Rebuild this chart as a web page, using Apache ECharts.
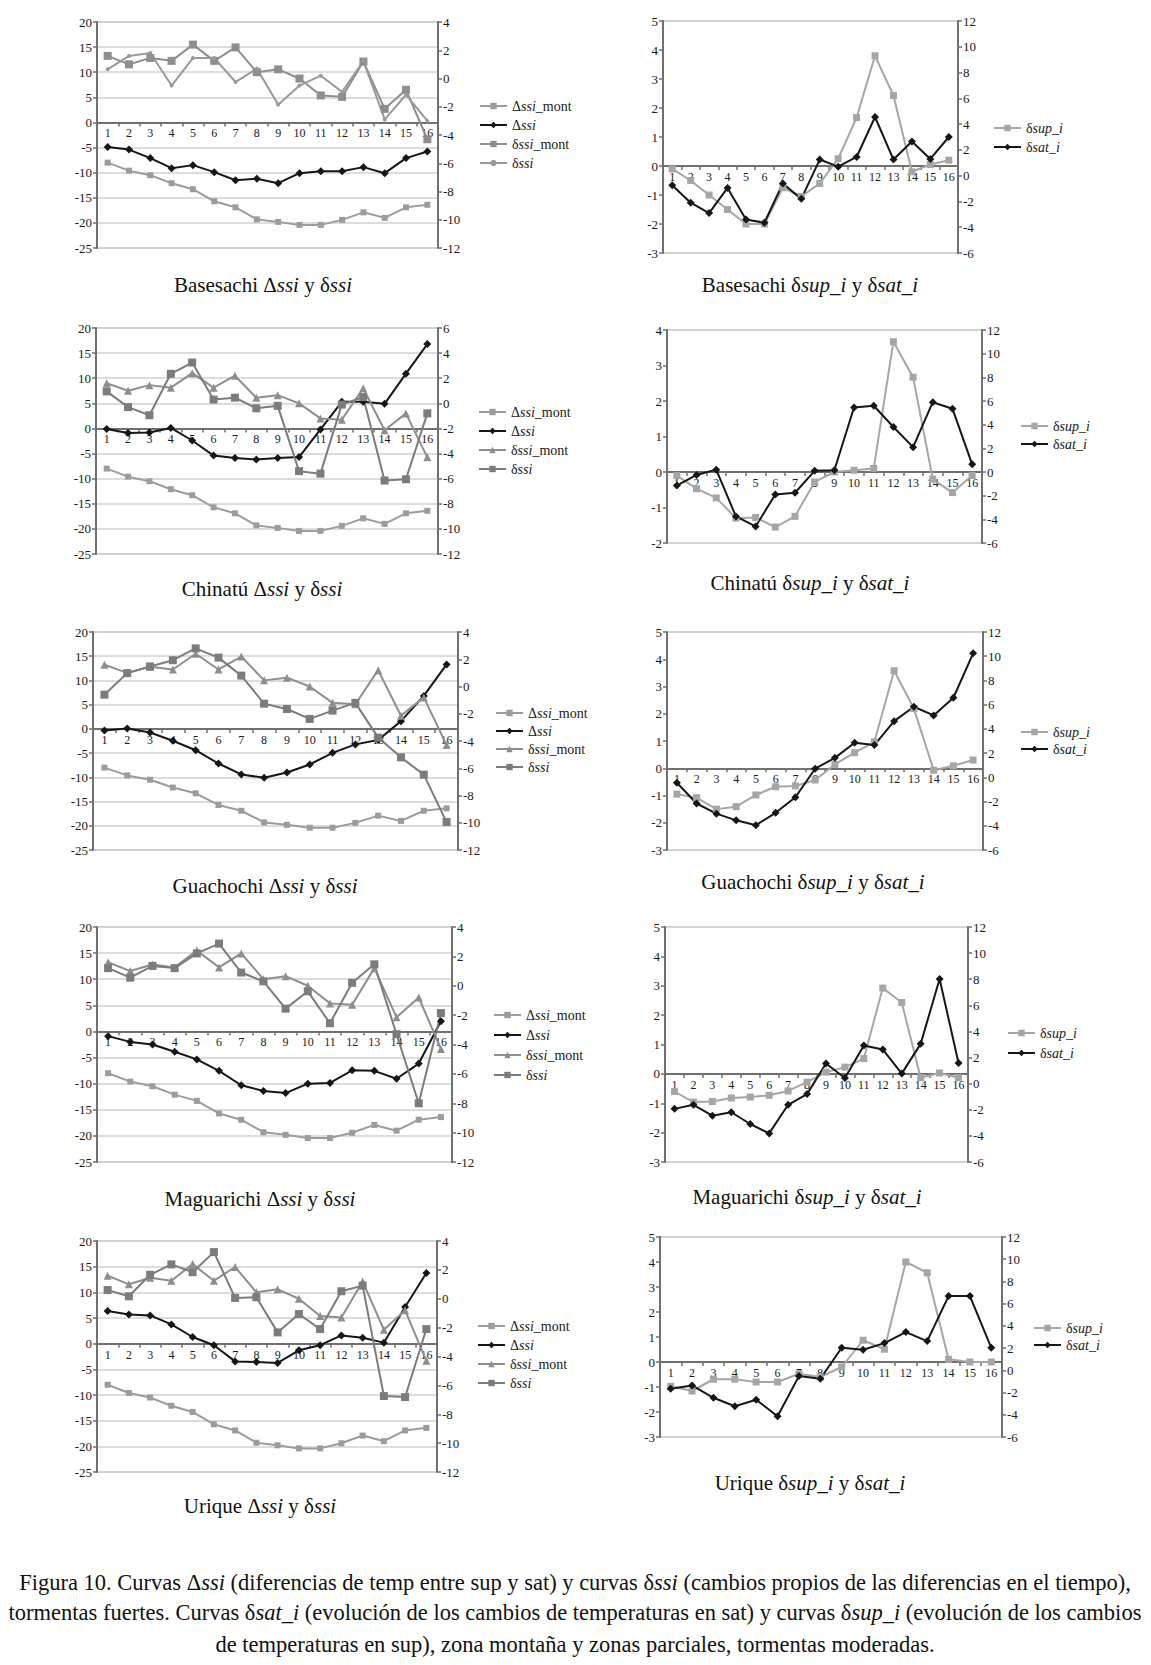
<!DOCTYPE html>
<html><head><meta charset="utf-8">
<script src="https://cdn.jsdelivr.net/npm/echarts@6/dist/echarts.min.js"></script>
<style>html,body{margin:0;padding:0;background:#fff}#c{width:1151px;height:1665px}</style>
</head><body><div id="c"></div>
<script>
// ---------- data ----------
const categories = ['1','2','3','4','5','6','7','8','9','10','11','12','13','14','15','16'];
const leftNames = ['Δssi_mont','Δssi','δssi_mont','δssi'];
const rightNames = ['δsup_i','δsat_i'];
const stations = ['Basesachi','Chinatú','Guachochi','Maguarichi','Urique'];

// shared mountain-zone curves
const deltaSsiMont = [-8.0,-9.6,-10.5,-12.1,-13.3,-15.7,-16.9,-19.3,-19.8,-20.4,-20.4,-19.4,-17.9,-19.0,-16.9,-16.4];
const dssiMont = [1.6,1.0,1.45,1.25,2.4,1.25,2.2,0.45,0.65,0.0,-1.2,-1.3,1.2,-2.15,-0.8,-4.3];

// Basesachi
const basesachiDeltaSsi = [-4.9,-5.4,-7.1,-9.1,-8.5,-9.9,-11.5,-11.2,-12.1,-10.1,-9.7,-9.7,-8.9,-10.1,-7.1,-5.8];
const basesachiDssi = [0.65,1.6,1.8,-0.5,1.45,1.45,-0.25,0.7,-1.85,-0.5,0.2,-0.95,1.25,-2.9,-1.15,-3.0];
const basesachiSup = [-0.1,-0.5,-1.0,-1.5,-2.0,-2.0,-0.75,-1.05,-0.6,0.25,1.67,3.8,2.43,-0.2,0.05,0.2];
const basesachiSat = [-0.75,-2.1,-2.9,-0.95,-3.4,-3.65,-0.6,-1.8,1.25,0.7,1.45,4.55,1.25,2.65,1.3,3.0];
// Chinatú
const chinatuDeltaSsi = [-0.1,-0.9,-0.8,0.1,-2.4,-5.4,-5.9,-6.2,-5.9,-5.7,-0.2,5.3,5.3,4.9,10.9,16.8];
const chinatuDssi = [0.95,-0.3,-0.95,2.35,3.25,0.3,0.45,-0.4,-0.2,-5.4,-5.6,-0.1,0.5,-6.15,-6.05,-0.8];
const chinatuSup = [-0.1,-0.47,-0.73,-1.3,-1.28,-1.55,-1.25,-0.28,0.0,0.05,0.1,3.67,2.67,-0.2,-0.58,-0.1];
const chinatuSat = [-1.15,-0.25,0.2,-3.75,-4.6,-1.9,-1.75,0.1,0.15,5.45,5.6,3.8,2.1,5.9,5.35,0.65];
// Guachochi
const guachochiDeltaSsi = [-0.35,0.1,-0.75,-2.45,-4.4,-7.15,-9.4,-10.1,-9.0,-7.35,-4.95,-3.2,-2.3,1.6,6.8,13.3];
const guachochiDssi = [-0.6,0.98,1.47,1.93,2.8,2.12,0.8,-1.26,-1.65,-2.38,-1.77,-1.2,-3.75,-5.2,-6.47,-9.95];
const guachochiSup = [-0.95,-1.08,-1.5,-1.41,-0.98,-0.68,-0.65,-0.43,0.14,0.57,0.97,3.58,2.19,-0.07,0.09,0.3];
const guachochiSat = [-0.45,-2.16,-3.0,-3.55,-3.95,-2.93,-1.64,0.71,1.61,2.85,2.66,4.64,5.83,5.11,6.57,10.24];
// Maguarichi
const maguarichiDeltaSsi = [-0.9,-2.0,-2.5,-3.9,-5.35,-7.55,-10.3,-11.4,-11.8,-10.0,-9.85,-7.45,-7.55,-9.05,-6.15,1.95];
const maguarichiDssi = [1.2,0.55,1.35,1.2,2.2,2.87,0.9,0.3,-1.56,-0.38,-2.55,0.2,1.46,-3.3,-8.0,-1.86];
const maguarichiSup = [-0.6,-0.96,-0.94,-0.82,-0.79,-0.73,-0.58,-0.28,0.06,0.23,0.52,2.92,2.43,-0.13,0.03,-0.13];
const maguarichiSat = [-1.93,-1.62,-2.45,-2.19,-3.09,-3.81,-1.62,-0.8,1.54,0.43,2.93,2.62,0.77,3.05,8.02,1.59];
// Urique
const uriqueDeltaSsi = [6.35,5.7,5.5,3.75,1.3,-0.3,-3.45,-3.55,-3.75,-1.3,-0.3,1.6,1.15,0.2,7.15,13.75];
const uriqueDssi = [0.6,0.17,1.66,2.38,1.84,3.23,0.06,0.1,-2.33,-1.06,-2.1,0.52,0.91,-6.74,-6.81,-2.1];
const uriqueSup = [-0.97,-1.16,-0.69,-0.69,-0.8,-0.8,-0.47,-0.6,-0.2,0.87,0.51,4.0,3.57,0.11,0.0,0.0];
const uriqueSat = [-1.66,-1.36,-2.47,-3.23,-2.65,-4.13,-0.52,-0.76,2.03,1.85,2.45,3.44,2.63,6.68,6.68,2.03];

// axis ranges (tick labels)
const leftPanelLeftAxis = [-25, 20, 5];
const leftPanelRightMax = [4, 6, 4, 4, 4];
const rightPanelLeftAxis = [[-3,5],[-2,4],[-3,5],[-3,5],[-3,5]];
const rightPanelRightAxis = [-6, 12, 2];

// ---------- layout ----------
const SERIF = '"Liberation Serif", "Times New Roman", serif';
const ZW = '\u200b'; // keeps the Basesachi legend tied to its own series styles
const leftSeriesData = [
  [basesachiDeltaSsi, basesachiDssi],[chinatuDeltaSsi, chinatuDssi],[guachochiDeltaSsi, guachochiDssi],
  [maguarichiDeltaSsi, maguarichiDssi],[uriqueDeltaSsi, uriqueDssi]];
const rightSeriesData = [
  [basesachiSup, basesachiSat],[chinatuSup, chinatuSat],[guachochiSup, guachochiSat],
  [maguarichiSup, maguarichiSat],[uriqueSup, uriqueSat]];

const leftLayout = [
  {grid:{left:97,top:22,width:341,height:226}, legend:{left:479,top:99,gap:5}, title:[263,285]},
  {grid:{left:96,top:328,width:342,height:226}, legend:{left:478,top:405,gap:5}, title:[262,589]},
  {grid:{left:93,top:632,width:365,height:218}, legend:{left:495,top:706,gap:4}, title:[265,886]},
  {grid:{left:97,top:927,width:355,height:235}, legend:{left:493,top:1008,gap:6}, title:[260,1199]},
  {grid:{left:97,top:1241,width:340,height:231}, legend:{left:477,top:1319,gap:5}, title:[260,1506]}
];
const rightLayout = [
  {grid:{left:663,top:21,width:295,height:232}, legend:{left:993,top:121,gap:5}, title:[810,285]},
  {grid:{left:667,top:330,width:315,height:213}, legend:{left:1020,top:419,gap:4}, title:[810,583]},
  {grid:{left:667,top:632,width:316,height:218}, legend:{left:1020,top:725,gap:3}, title:[813,882]},
  {grid:{left:665,top:927,width:303,height:235}, legend:{left:1007,top:1026,gap:6}, title:[807,1197]},
  {grid:{left:660,top:1237,width:342,height:200}, legend:{left:1033,top:1321,gap:3}, title:[810,1483]}
];

const AXIS_COLOR = '#707070';
const LABEL = {fontFamily: SERIF, fontSize: 13, color: '#1a1a1a'};
const richBase = {
  n: {fontFamily: SERIF, fontSize: 14, color: '#1a1a1a', lineHeight: 15},
  i: {fontFamily: SERIF, fontSize: 14, color: '#1a1a1a', fontStyle: 'italic', lineHeight: 15}
};
function richName(name) {
  const m = name.replace(/\u200b/g, '').match(/^([Δδ])(ssi|sup_i|sat_i)(.*)$/);
  if (!m) return '{n|' + name + '}';
  return '{n|' + m[1] + '}{i|' + m[2] + '}' + (m[3] ? '{n|' + m[3] + '}' : '');
}

const grids = [], xAxes = [], yAxes = [], series = [], legends = [], graphics = [];

function addPanel(layout, leftRange, leftInt, rightRange, rightInt, gridLines) {
  const gi = grids.length;
  grids.push(Object.assign({show: true, borderColor: '#a8a8a8', borderWidth: 1, containLabel: false, outerBoundsMode: 'none'}, layout.grid));
  // place the category axis on the zero of the left value axis
  const zeroFrac = (0 - leftRange[0]) / (leftRange[1] - leftRange[0]);
  xAxes.push({
    type: 'category', gridIndex: gi, data: categories, boundaryGap: true, position: 'bottom',
    offset: -zeroFrac * layout.grid.height,
    axisLine: {show: true, onZero: false, lineStyle: {color: AXIS_COLOR, width: 2}},
    axisTick: {show: true, length: 4, lineStyle: {color: AXIS_COLOR, width: 1.5}},
    axisLabel: {interval: 0, fontFamily: SERIF, fontSize: 12, color: '#1a1a1a', margin: 5},
    splitLine: {show: false}
  });
  const yl = yAxes.length;
  yAxes.push({
    type: 'value', gridIndex: gi, position: 'left', min: leftRange[0], max: leftRange[1], interval: leftInt,
    axisLine: {show: true, onZero: false, lineStyle: {color: AXIS_COLOR, width: 2}},
    axisTick: {show: true, length: 4, lineStyle: {color: AXIS_COLOR, width: 1.5}},
    axisLabel: Object.assign({margin: 5}, LABEL),
    splitLine: {show: gridLines, lineStyle: {color: '#d2d2d2', width: 1.5}}
  });
  yAxes.push({
    type: 'value', gridIndex: gi, position: 'right', min: rightRange[0], max: rightRange[1], interval: rightInt,
    axisLine: {show: true, onZero: false, lineStyle: {color: AXIS_COLOR, width: 2}},
    axisTick: {show: true, length: 4, lineStyle: {color: AXIS_COLOR, width: 1.5}},
    axisLabel: Object.assign({margin: 5}, LABEL),
    splitLine: {show: false}
  });
  return {gi, yl, yr: yl + 1};
}

function lineSeries(name, gi, yi, data, color, symbol, size, width) {
  return {
    type: 'line', name, xAxisIndex: gi, yAxisIndex: yi, data,
    symbol, symbolSize: size, showAllSymbol: true,
    lineStyle: {color, width: width || 2}, itemStyle: {color, borderWidth: 0},
    emphasis: {disabled: true}, z: 3
  };
}

function addLegend(layout, names) {
  legends.push({
    orient: 'vertical', left: layout.legend.left, top: layout.legend.top,
    itemWidth: 27, itemHeight: 8, itemGap: layout.legend.gap, padding: 0,
    data: names, selectedMode: false,
    formatter: richName,
    textStyle: {fontFamily: SERIF, fontSize: 14, color: '#1a1a1a', rich: richBase, padding: [0, 0, 0, 0]}
  });
}

function addTitle(pos, parts, size) {
  graphics.push({
    type: 'text', x: pos[0], y: pos[1], silent: true,
    style: {
      text: parts, align: 'center', verticalAlign: 'middle',
      fontFamily: SERIF, fontSize: size, fill: '#111',
      rich: {
        n: {fontFamily: SERIF, fontSize: size, fill: '#111'},
        i: {fontFamily: SERIF, fontSize: size, fill: '#111', fontStyle: 'italic'}
      }
    }
  });
}

// left panels
stations.forEach((st, k) => {
  const L = leftLayout[k];
  const ax = addPanel(L, [leftPanelLeftAxis[0], leftPanelLeftAxis[1]], leftPanelLeftAxis[2], [-12, leftPanelRightMax[k]], 2, true);
  const isB = k === 0;
  const names = leftNames.map(n => isB ? n + ZW : n);
  series.push(lineSeries(names[0], ax.gi, ax.yl, deltaSsiMont, '#9c9c9c', 'rect', 6));
  series.push(lineSeries(names[1], ax.gi, ax.yl, leftSeriesData[k][0], '#161616', 'diamond', 8));
  series.push(lineSeries(names[2], ax.gi, ax.yr, dssiMont, '#8e8e8e', isB ? 'rect' : 'triangle', 8));
  series.push(lineSeries(names[3], ax.gi, ax.yr, leftSeriesData[k][1], isB ? '#9a9a9a' : '#7c7c7c', isB ? 'circle' : 'rect', isB ? 4 : 8));
  addLegend(L, names);
  addTitle(L.title, '{n|' + st + ' Δ}{i|ssi}{n| y δ}{i|ssi}', 21);
});

// right panels
stations.forEach((st, k) => {
  const R = rightLayout[k];
  const ax = addPanel(R, rightPanelLeftAxis[k], 1, [rightPanelRightAxis[0], rightPanelRightAxis[1]], rightPanelRightAxis[2], false);
  series.push(lineSeries('δsup_i', ax.gi, ax.yl, rightSeriesData[k][0], '#a6a6a6', 'rect', 7));
  series.push(lineSeries('δsat_i', ax.gi, ax.yr, rightSeriesData[k][1], '#161616', 'diamond', 8));
  addLegend(R, rightNames);
  addTitle(R.title, '{n|' + st + ' δ}{i|sup_i}{n| y δ}{i|sat_i}', 21);
});

// caption
const captionLines = [
  '{n|Figura 10. Curvas Δ}{i|ssi}{n| (diferencias de temp entre sup y sat) y curvas δ}{i|ssi}{n| (cambios propios de las diferencias en el tiempo),}',
  '{n|tormentas fuertes. Curvas δ}{i|sat_i}{n| (evolución de los cambios de temperaturas en sat) y curvas δ}{i|sup_i}{n| (evolución de los cambios}',
  '{n|de temperaturas en sup), zona montaña y zonas parciales, tormentas moderadas.}'
];
const captionY = [1582, 1612, 1644];
captionLines.forEach((t, i) => addTitle([575, captionY[i]], t, 22.5));

const chart = echarts.init(document.getElementById('c'), null, {renderer: 'svg', width: 1151, height: 1665});
chart.setOption({
  animation: false,
  backgroundColor: '#ffffff',
  grid: grids, xAxis: xAxes, yAxis: yAxes, series, legend: legends, graphic: graphics,
  tooltip: {show: false}
});
</script>
</body></html>
